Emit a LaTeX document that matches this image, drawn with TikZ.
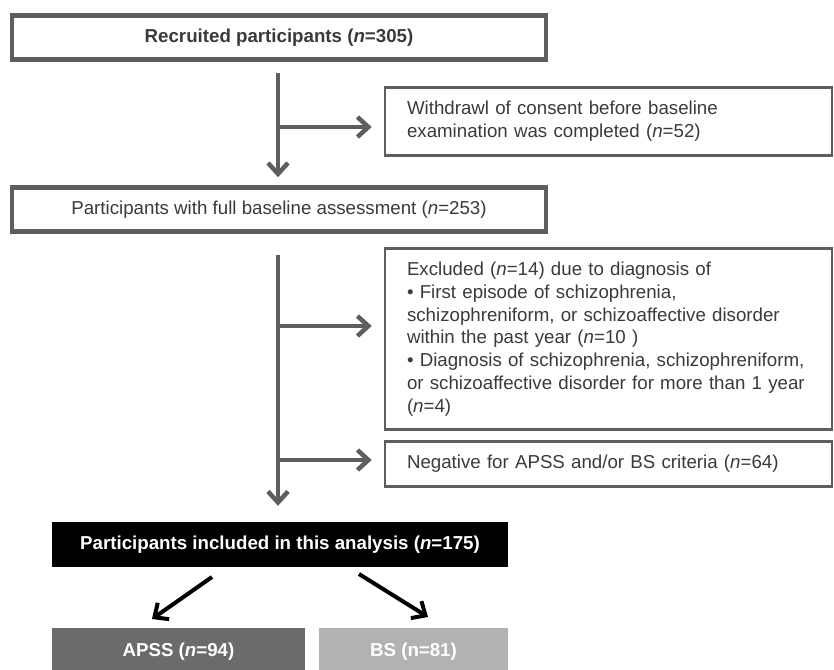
\documentclass[tikz,border=0pt]{standalone}
\usepackage{fontspec}
\setmainfont{Liberation Sans}
\usetikzlibrary{arrows.meta}

\definecolor{linegray}{HTML}{5E5E5E}
\definecolor{textgray}{HTML}{3A3A3A}
\definecolor{apssgray}{HTML}{6B6B6B}
\definecolor{bsgray}{HTML}{B2B2B2}

\tikzset{every node/.style={font=\fontsize{18.7}{22.8}\selectfont,text=textgray}}
\tikzset{mainbox/.style={draw=linegray,line width=4.5pt,minimum width=534pt,minimum height=44pt}}
\tikzset{sidebox/.style={draw=linegray,line width=2.5pt,minimum width=447pt,text width=403pt,inner xsep=22pt,align=left}}
\tikzset{groupbox/.style={text=white,font=\fontsize{18.7}{22.8}\selectfont\bfseries,minimum height=48pt}}
\tikzset{arr/.style={draw=linegray,line width=4.5pt,-{Straight Barb[length=11pt,width=20pt]}}}
\tikzset{blackarr/.style={draw=black,line width=4pt,-{Straight Barb[length=11pt,width=20pt]}}}

\begin{document}
\begin{tikzpicture}[x=1pt,y=-1pt]
\useasboundingbox (0,0) rectangle (834,669);
\node[mainbox,font=\fontsize{18.7}{22.8}\selectfont\bfseries] (recruit) at (279,37.5) {Recruited participants (\textit{n}=305)};
\node[mainbox] (full) at (279,209.5) {Participants with full baseline assessment (\textit{n}=253)};
\node[sidebox,minimum height=68pt] (withdraw) at (608.5,121.5) {Withdrawl of consent before baseline\\examination was completed (\textit{n}=52)};
\node[sidebox,minimum height=181pt] (excluded) at (608.5,339) {Excluded (\textit{n}=14) due to diagnosis of\\
• First episode of schizophrenia,\\
schizophreniform, or schizoaffective disorder\\
within the past year (\textit{n}=10 )\\
• Diagnosis of schizophrenia, schizophreniform,\\
or schizoaffective disorder for more than 1 year\\
(\textit{n}=4)};
\node[sidebox,minimum height=45pt] (negative) at (608.5,464) {Negative for APSS and/or BS criteria (\textit{n}=64)};
\node[groupbox,fill=black,minimum width=456pt,minimum height=45pt] (included) at (280,544.5) {Participants included in this analysis (\textit{n}=175)};
\node[groupbox,fill=apssgray,minimum width=253pt] (apss) at (178.5,652) {APSS (\textit{n}=94)};
\node[groupbox,fill=bsgray,minimum width=189pt] (bs) at (413.5,652) {BS (n=81)};

% flow down the left
\coordinate (v1) at (278,73);
\coordinate (b1) at (278,127);
\coordinate (v2) at (278,255);
\coordinate (b2) at (278,326);
\coordinate (b3) at (278,460);
\draw[arr] (v1) -- ([yshift=8pt]v1 |- full.north);
\draw[arr] (b1) -- ([xshift=-12pt]b1 -| withdraw.west);
\draw[arr] (v2) -- ([yshift=16pt]v2 |- included.north);
\draw[arr] (b2) -- ([xshift=-12pt]b2 -| excluded.west);
\draw[arr] (b3) -- ([xshift=-12pt]b3 -| negative.west);

% split into the two groups
\coordinate (s1) at (212,577);
\coordinate (e1) at (152,619);
\coordinate (s2) at (359,574);
\coordinate (e2) at (428,617);
\draw[blackarr] (s1) -- (e1);
\draw[blackarr] (s2) -- (e2);
\end{tikzpicture}
\end{document}
